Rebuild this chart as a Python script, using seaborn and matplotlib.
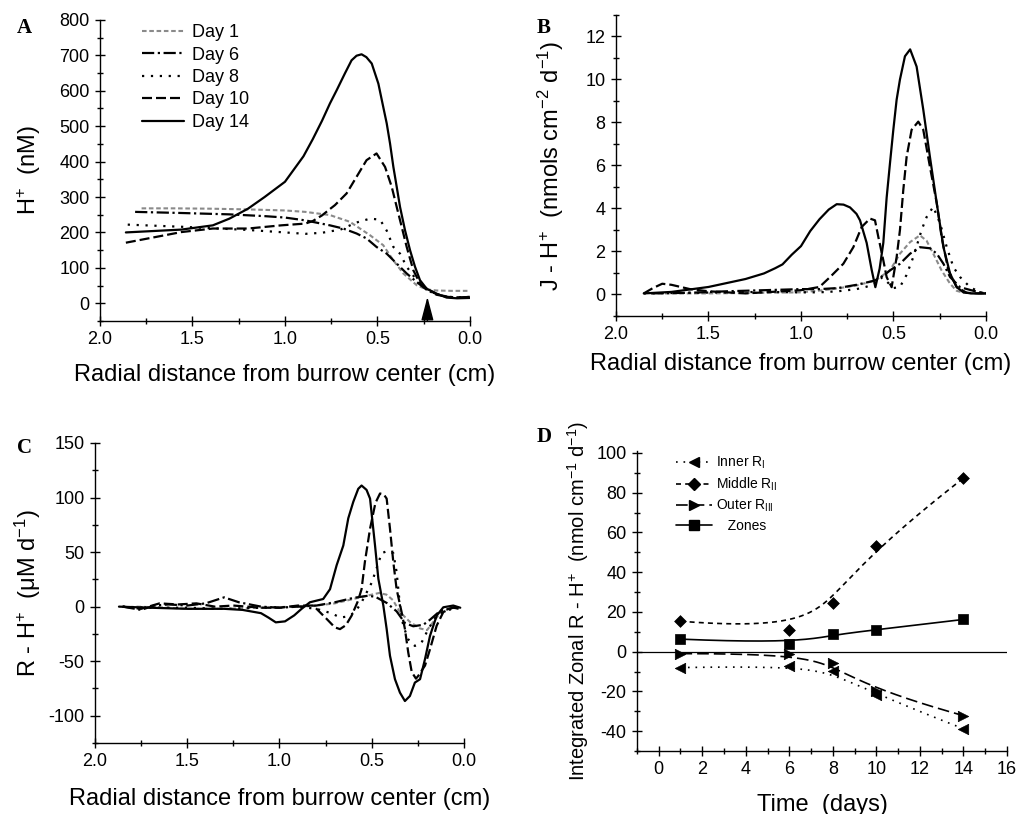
import numpy as np
import pandas as pd
import matplotlib
matplotlib.use("Agg")
import matplotlib.pyplot as plt
from matplotlib.lines import Line2D
from matplotlib.ticker import MultipleLocator, FormatStrFormatter
import seaborn as sns

# ---------------- data ----------------
# Panel A : H+ (nM) vs radial distance (cm)
A_X_D1 = [1.775, 1.6, 1.4, 1.2, 1.0, 0.89, 0.757, 0.649, 0.54, 0.469, 0.414, 0.36, 0.288, 0.234, 0.18, 0.1, 0.0]
A_Y_D1 = [268, 268, 267, 265, 262, 258, 249, 230, 192, 164, 121, 84, 51, 39, 36, 35, 35]
A_X_D6 = [1.81, 1.57, 1.3, 1.11, 1.0, 0.89, 0.757, 0.685, 0.613, 0.559, 0.505, 0.45, 0.396, 0.342, 0.288, 0.234, 0.18, 0.12, 0.06, 0.0]
A_Y_D6 = [258, 255, 251, 246, 242, 234, 220, 211, 197, 183, 159, 140, 112, 84, 60, 38, 24, 18, 16, 18]
A_X_D8 = [1.85, 1.56, 1.2, 1.0, 0.89, 0.8, 0.7, 0.613, 0.54, 0.486, 0.45, 0.414, 0.378, 0.342, 0.288, 0.234, 0.18, 0.12, 0.06, 0.0]
A_Y_D8 = [222, 216, 207, 200, 196, 199, 208, 228, 239, 236, 205, 159, 140, 103, 65, 41, 25, 18, 17, 18]
A_X_D10 = [1.86, 1.74, 1.56, 1.39, 1.2, 1.02, 0.89, 0.85, 0.8, 0.757, 0.73, 0.667, 0.613, 0.559, 0.505, 0.459,
           0.423, 0.396, 0.369, 0.342, 0.306, 0.27, 0.234, 0.18, 0.12, 0.06, 0.0]
A_Y_D10 = [171, 183, 201, 211, 211, 220, 225, 232, 248, 266, 277, 310, 357, 404, 423, 385,
           329, 272, 216, 159, 93, 56, 41, 26, 18, 16, 18]
A_X_D14 = [1.86, 1.56, 1.39, 1.3, 1.2, 1.11, 1.0, 0.9, 0.85, 0.8, 0.757, 0.72, 0.676, 0.64, 0.613, 0.586, 0.56,
           0.531, 0.495, 0.469, 0.45, 0.432, 0.414, 0.396, 0.378, 0.351, 0.324, 0.297, 0.27, 0.234, 0.18, 0.126, 0.07, 0.0]
A_Y_D14 = [200, 208, 220, 239, 267, 300, 343, 415, 463, 515, 564, 602, 649, 686, 699, 703, 695,
           677, 620, 555, 508, 451, 385, 329, 272, 206, 150, 103, 65, 41, 27, 16, 14, 15]
A_ARROW_X = 0.23

# Panel B : J - H+ flux
B_X_D1 = [1.775, 1.5, 1.2, 1.0, 0.879, 0.79, 0.7, 0.6, 0.519, 0.465, 0.41, 0.357, 0.321, 0.285, 0.24, 0.194, 0.158, 0.12, 0.06, 0.0]
B_Y_D1 = [0.05, 0.05, 0.08, 0.1, 0.2, 0.3, 0.42, 0.65, 1.12, 1.9, 2.44, 2.75, 2.5, 1.9, 1.12, 0.5, 0.17, 0.08, 0.05, 0.05]
B_X_D6 = [1.81, 1.6, 1.4, 1.2, 1.0, 0.9, 0.8, 0.7, 0.6, 0.55, 0.519, 0.465, 0.41, 0.357, 0.303, 0.266, 0.23, 0.194, 0.14, 0.068, 0.0]
B_Y_D6 = [0.05, 0.08, 0.15, 0.2, 0.25, 0.25, 0.3, 0.45, 0.65, 0.9, 1.12, 1.43, 1.9, 2.2, 2.15, 1.9, 1.43, 0.81, 0.34, 0.17, 0.05]
B_X_D8 = [1.85, 1.6, 1.4, 1.2, 1.0, 0.9, 0.8, 0.7, 0.65, 0.6, 0.56, 0.53, 0.5, 0.465, 0.43, 0.393, 0.348, 0.321,
          0.285, 0.248, 0.212, 0.176, 0.14, 0.086, 0.032, 0.0]
B_Y_D8 = [0.05, 0.08, 0.1, 0.12, 0.1, 0.1, 0.15, 0.25, 0.35, 0.5, 0.8, 0.55, 0.3, 0.35, 0.9, 1.74, 3.0, 3.6,
          4.08, 3.3, 2.2, 1.27, 0.81, 0.34, 0.1, 0.05]
B_X_D10 = [1.85, 1.8, 1.75, 1.7, 1.6, 1.5, 1.4, 1.3, 1.2, 1.1, 1.0, 0.9, 0.843, 0.771, 0.717, 0.672, 0.627, 0.6,
           0.582, 0.555, 0.537, 0.51, 0.483, 0.465, 0.447, 0.429, 0.402, 0.366, 0.339, 0.303, 0.266, 0.24, 0.203,
           0.158, 0.104, 0.05, 0.0]
B_Y_D10 = [0.05, 0.3, 0.5, 0.45, 0.25, 0.15, 0.1, 0.05, 0.1, 0.15, 0.2, 0.35, 0.81, 1.43, 2.2, 3.14, 3.53, 3.45,
           2.68, 1.59, 0.81, 0.34, 1.74, 3.0, 4.86, 6.4, 7.66, 8.04, 7.66, 5.94, 4.24, 2.68, 1.12,
           0.34, 0.08, 0.05, 0.05]
B_X_D14 = [1.85, 1.7, 1.5, 1.3, 1.2, 1.14, 1.1, 1.05, 1.0, 0.95, 0.9, 0.85, 0.807, 0.77, 0.735, 0.7, 0.681, 0.645,
           0.618, 0.598, 0.575, 0.555, 0.537, 0.519, 0.501, 0.483, 0.465, 0.438, 0.41, 0.375, 0.339, 0.303, 0.266,
           0.23, 0.194, 0.158, 0.122, 0.08, 0.0]
B_Y_D14 = [0.05, 0.12, 0.35, 0.72, 0.98, 1.22, 1.4, 1.85, 2.25, 2.95, 3.5, 3.95, 4.2, 4.18, 4.05, 3.75, 3.45, 2.4,
           1.15, 0.34, 1.2, 2.4, 4.5, 6.1, 7.65, 9.06, 10.0, 11.08, 11.4, 10.6, 8.6, 6.4, 4.24,
           2.2, 0.97, 0.34, 0.1, 0.05, 0.05]

# Panel C : R - H+ production
C_X_D1 = [1.775, 1.6, 1.5, 1.3, 1.1, 0.9, 0.8, 0.7, 0.6, 0.5, 0.46, 0.42, 0.385, 0.347, 0.293, 0.238, 0.2, 0.166, 0.13, 0.076, 0.022]
C_Y_D1 = [0, -1, -2, -2, -1, 0, 1, 3, 7, 11, 12.5, 11, 6, -5, -14, -20, -21.5, -14, -6, -1.5, 0]
C_X_D6 = [1.85, 1.75, 1.68, 1.6, 1.5, 1.4, 1.3, 1.22, 1.1, 1.0, 0.9, 0.8, 0.7, 0.6, 0.52, 0.48, 0.419, 0.365, 0.32,
          0.275, 0.22, 0.184, 0.13, 0.058, 0.02]
C_Y_D6 = [0, -3, 1, 2, 1, 3, 8.5, 4, 0, -1, 0, 1, 4, 8, 10, 9, 3.4, -4.3, -15, -18, -16.6, -12, -4, -1, -2]
C_X_D8 = [1.85, 1.7, 1.5, 1.3, 1.1, 0.9, 0.8, 0.72, 0.67, 0.63, 0.59, 0.555, 0.5, 0.446, 0.415, 0.383, 0.365, 0.347,
          0.329, 0.302, 0.266, 0.23, 0.193, 0.148, 0.094, 0.04]
C_Y_D8 = [0, -1, -1, -2, -1, 0, -2, -6, -10, -9, -5, 4, 22, 49, 51, 49, 31.6, 1, -17.5, -30, -36, -33, -20.5, -8, -3, -2]
C_X_D10 = [1.85, 1.75, 1.65, 1.55, 1.45, 1.35, 1.25, 1.1, 1.0, 0.9, 0.817, 0.744, 0.7, 0.672, 0.64, 0.609, 0.575,
           0.555, 0.537, 0.509, 0.48, 0.455, 0.435, 0.419, 0.401, 0.383, 0.365, 0.338, 0.32, 0.302, 0.283, 0.26,
           0.248, 0.211, 0.184, 0.148, 0.112, 0.058, 0.02]
C_Y_D10 = [0, -2, 3, 2, 3, 0, 1, -1, -1, 1, 1, -11.3, -19, -20.6, -17, -8.3, 5, 16, 41, 71.5, 95, 103.7, 103, 99,
           71.5, 41, 16, -5, -20.5, -42, -60, -66, -63.5, -54, -39, -17.5, -5, -0.6, -2]
C_X_D14 = [1.87, 1.7, 1.5, 1.3, 1.2, 1.1, 1.06, 1.02, 0.97, 0.92, 0.88, 0.835, 0.763, 0.726, 0.69, 0.654, 0.627,
           0.6, 0.573, 0.555, 0.528, 0.509, 0.482, 0.464, 0.437, 0.419, 0.401, 0.374, 0.347, 0.32, 0.293, 0.266,
           0.238, 0.211, 0.184, 0.148, 0.112, 0.058, 0.02]
C_Y_D14 = [0, -1, -2, -2, -3, -6, -10, -14.4, -13.5, -8, -2, 4, 7, 16, 38, 56, 81, 96, 108, 111, 107, 99, 56,
           25.5, 1, -20.5, -45, -66.5, -78.8, -86.5, -81.9, -69.6, -66.5, -48, -26.7, -8.3, -0.6, 1, -1]

# Panel D : integrated zonal R - H+
D_DAYS = [1, 6, 8, 10, 14]
D_INNER = [-8.0, -7.2, -9.7, -21.7, -38.8]
D_MIDDLE = [15.3, 11.0, 24.5, 53.2, 87.3]
D_OUTER = [-1.0, -1.0, -5.8, -20.0, -32.2]
D_ZONES = [6.3, 4.0, 8.7, 11.0, 16.2]

DAY_LABELS = ["Day 1", "Day 6", "Day 8", "Day 10", "Day 14"]

# ---------------- styling ----------------
sns.set_theme(style="ticks", rc={
    "axes.edgecolor": "black", "xtick.color": "black", "ytick.color": "black",
    "text.color": "black", "axes.labelcolor": "black", "axes.linewidth": 1.0,
})
plt.rcParams["font.family"] = ["Liberation Sans", "DejaVu Sans"]
plt.rcParams["mathtext.fontset"] = "custom"
plt.rcParams["mathtext.rm"] = "Liberation Sans"
plt.rcParams["mathtext.it"] = "Liberation Sans:italic"
plt.rcParams["mathtext.bf"] = "Liberation Sans:bold"
plt.rcParams["axes.unicode_minus"] = False

STYLES = {
    "Day 1": dict(color="#8a8a8a", lw=1.5, ls=(0, (2.2, 1.3))),
    "Day 6": dict(color="black", lw=1.6, ls=(0, (5.5, 1.6, 1.0, 1.6))),
    "Day 8": dict(color="black", lw=1.6, ls=(0, (1.0, 3.0))),
    "Day 10": dict(color="black", lw=1.6, ls=(0, (4.5, 1.8))),
    "Day 14": dict(color="black", lw=1.6, ls="-"),
}

fig = plt.figure(figsize=(10.17, 8.14), dpi=100)
axA = fig.add_axes([0.0983, 0.6057, 0.3638, 0.3698])
axB = fig.add_axes([0.6057, 0.6118, 0.3638, 0.3698])
axC = fig.add_axes([0.0934, 0.0872, 0.3628, 0.3686])
axD = fig.add_axes([0.6263, 0.0774, 0.3638, 0.3686])

XLAB = "Radial distance from burrow center (cm)"


def style_axis(ax, labelsize=13):
    sns.despine(ax=ax)
    ax.tick_params(which="major", direction="inout", length=7, width=1.0, labelsize=labelsize, pad=4)
    ax.tick_params(which="minor", direction="inout", length=4, width=1.0)


def draw_profiles(ax, xs, ys, xpad):
    for lab, x, y in zip(DAY_LABELS, xs, ys):
        st = STYLES[lab]
        sns.lineplot(x=x, y=y, ax=ax, sort=False, estimator=None, color=st["color"],
                     linewidth=st["lw"], linestyle=st["ls"], legend=False)
    ax.set_xlim(2.0, 0.0)
    ax.xaxis.set_major_locator(MultipleLocator(0.5))
    ax.xaxis.set_minor_locator(MultipleLocator(0.25))
    ax.xaxis.set_major_formatter(FormatStrFormatter("%.1f"))
    style_axis(ax)
    ax.set_xlabel(XLAB, fontsize=17, labelpad=xpad)


# Panel A
draw_profiles(axA, [A_X_D1, A_X_D6, A_X_D8, A_X_D10, A_X_D14],
              [A_Y_D1, A_Y_D6, A_Y_D8, A_Y_D10, A_Y_D14], xpad=11)
axA.set_ylim(-50, 800)
axA.yaxis.set_major_locator(MultipleLocator(100))
axA.yaxis.set_minor_locator(MultipleLocator(50))
axA.set_ylabel("H$^{+}$  (nM)", fontsize=17, labelpad=12)
axA.annotate("", xy=(A_ARROW_X, 18), xytext=(A_ARROW_X, -50),
             arrowprops=dict(arrowstyle="-|>,head_length=1.45,head_width=0.38", mutation_scale=10,
                             color="black", lw=1.0, shrinkA=0, shrinkB=0))
hA = [Line2D([], [], color=STYLES[l]["color"], lw=STYLES[l]["lw"], ls=STYLES[l]["ls"]) for l in DAY_LABELS]
axA.legend(hA, DAY_LABELS, loc="upper left", bbox_to_anchor=(0.095, 1.01), frameon=False, fontsize=13,
           handlelength=2.3, handletextpad=0.45, labelspacing=0.3, borderaxespad=0)

# Panel B
draw_profiles(axB, [B_X_D1, B_X_D6, B_X_D8, B_X_D10, B_X_D14],
              [B_Y_D1, B_Y_D6, B_Y_D8, B_Y_D10, B_Y_D14], xpad=7)
axB.set_ylim(-1, 13)
axB.yaxis.set_major_locator(MultipleLocator(2))
axB.yaxis.set_minor_locator(MultipleLocator(1))
axB.set_ylabel("J - H$^{+}$  (nmols cm$^{-2}$ d$^{-1}$)", fontsize=17, labelpad=14)

# Panel C
draw_profiles(axC, [C_X_D1, C_X_D6, C_X_D8, C_X_D10, C_X_D14],
              [C_Y_D1, C_Y_D6, C_Y_D8, C_Y_D10, C_Y_D14], xpad=13)
axC.set_ylim(-125, 150)
axC.yaxis.set_major_locator(MultipleLocator(50))
axC.yaxis.set_minor_locator(MultipleLocator(25))
axC.set_ylabel("R - H$^{+}$  (\u03bcM d$^{-1}$)", fontsize=17, labelpad=4)


# Panel D : clamped cubic B-spline using the points as control points
def bspline(cx, cy, num=200, k=3):
    cx = np.asarray(cx, float)
    cy = np.asarray(cy, float)
    n = len(cx)
    t = np.concatenate([np.zeros(k), np.linspace(0, 1, n - k + 1), np.ones(k)])
    u = np.linspace(0, 1, num)

    def basis(i, p):
        if p == 0:
            r = ((t[i] <= u) & (u < t[i + 1])).astype(float)
            if t[i + 1] == 1.0 and t[i] < 1.0:
                r[u == 1.0] = 1.0
            return r
        out = np.zeros_like(u)
        d1 = t[i + p] - t[i]
        if d1 > 0:
            out += (u - t[i]) / d1 * basis(i, p - 1)
        d2 = t[i + p + 1] - t[i + 1]
        if d2 > 0:
            out += (t[i + p + 1] - u) / d2 * basis(i + 1, p - 1)
        return out

    B = np.array([basis(i, k) for i in range(n)])
    return B.T @ cx, B.T @ cy


D_SERIES = [
    ("Inner R$_{\\rm I}$", D_INNER, "<", (0, (1.0, 3.5)), 7.5),
    ("Middle R$_{\\rm II}$", D_MIDDLE, "D", (0, (3.0, 2.5)), 6.0),
    ("Outer R$_{\\rm III}$", D_OUTER, ">", (0, (7.0, 3.0)), 7.5),
    ("   Zones", D_ZONES, "s", "-", 6.5),
]
axD.axhline(0, color="black", lw=0.9, zorder=1)
hD = []
for lab, vals, mk, ls, ms in D_SERIES:
    bx, by = bspline(D_DAYS, vals)
    sns.lineplot(x=bx, y=by, ax=axD, sort=False, estimator=None, color="black", linewidth=1.2,
                 linestyle=ls, legend=False)
    sns.scatterplot(x=D_DAYS, y=vals, ax=axD, marker=mk, s=ms ** 2, color="black", edgecolor="black",
                    linewidth=0.5, legend=False, zorder=3)
    hD.append(Line2D([], [], color="black", lw=1.2, ls=ls, marker=mk, markersize=ms))
axD.set_xlim(-1, 16)
axD.set_ylim(-50, 101)
axD.xaxis.set_major_locator(MultipleLocator(2))
axD.xaxis.set_minor_locator(MultipleLocator(1))
axD.yaxis.set_major_locator(MultipleLocator(20))
axD.yaxis.set_minor_locator(MultipleLocator(10))
style_axis(axD, labelsize=13)
axD.set_xlabel("Time  (days)", fontsize=17, labelpad=11)
axD.set_ylabel("Integrated Zonal R - H$^{+}$  (nmol cm$^{-1}$ d$^{-1}$)", fontsize=14.5, labelpad=4)
axD.legend(hD, [s[0] for s in D_SERIES], loc="upper left", bbox_to_anchor=(0.09, 1.005), frameon=False,
           fontsize=10, handlelength=2.6, handletextpad=0.3, labelspacing=0.33, borderaxespad=0, numpoints=1)

# Panel letters
for letter, px, py in [("A", 17, 33), ("B", 537, 33), ("C", 17, 453), ("D", 537, 442)]:
    fig.text(px / 1017, 1 - py / 814, letter, fontsize=15, fontweight="bold",
             family=["Liberation Serif", "DejaVu Serif"], va="baseline", ha="left")

fig.savefig("out.png", dpi=100)
